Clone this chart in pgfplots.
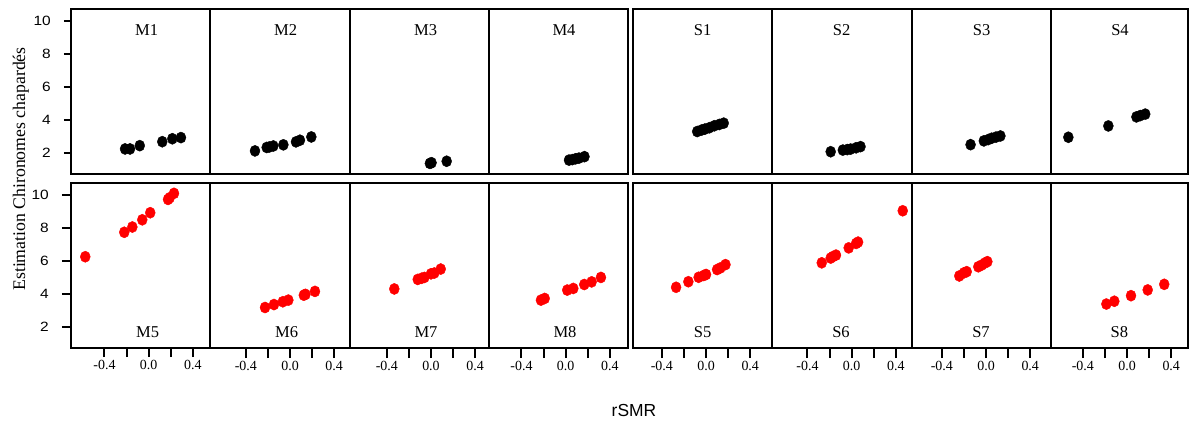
\documentclass[border=0pt]{standalone}
\usepackage{pgfplots}
\pgfplotsset{compat=1.18}
\usepackage{fontspec}
\setmainfont{Liberation Serif}
\newfontfamily\sansf{Liberation Sans}
\pgfplotsset{
  base/.style={scale only axis, height=165bp, anchor=south west,
    ymin=0.704, ymax=10.75, xtick=\empty, ytick=\empty, minor tick num=0,
    axis line style={line width=2bp, black},
    every tick/.style={black, line width=2bp},
    tick align=outside, tick pos=left},
  xrow/.style={xtick={-0.4,-0.2,0,0.2,0.4}, xticklabels={-0.4,,0.0,,0.4},
    major tick length=10bp,
    xticklabel style={font=\fontsize{14}{14}\selectfont}},
  ycol/.style={ytick={2,4,6,8,10}, yticklabels={2,4,6,8,10},
    yticklabel style={font=\sansf\fontsize{13.5}{14}\selectfont, xscale=1.15, xshift=-8bp}},
  blk/.style={only marks, mark=*, mark size=5bp, mark options={draw=black, fill=black, yscale=1.12}},
  rd/.style={only marks, mark=*, mark size=5bp, mark options={draw=red, fill=red, yscale=1.12}},
  c1/.style={at={(71bp,#1)}, width=139bp, xmin=-0.7032, xmax=0.5548},
  c2/.style={at={(210bp,#1)}, width=140bp, xmin=-0.724, xmax=0.543},
  c3/.style={at={(350bp,#1)}, width=139bp, xmin=-0.733, xmax=0.525},
  c4/.style={at={(489bp,#1)}, width=139bp, xmin=-0.694, xmax=0.564},
  c5/.style={at={(633bp,#1)}, width=139bp, xmin=-0.661, xmax=0.597},
  c6/.style={at={(772bp,#1)}, width=140bp, xmin=-0.721, xmax=0.546},
  c7/.style={at={(912bp,#1)}, width=139bp, xmin=-0.670, xmax=0.588},
  c8/.style={at={(1051bp,#1)}, width=137bp, xmin=-0.688, xmax=0.552},
}
\newcommand{\ttl}{\fontsize{16.6}{17}\selectfont}
\begin{document}
\begin{tikzpicture}
\useasboundingbox (0,0) rectangle (1189bp,423bp);
% ---------------- top row ----------------
\begin{axis}[base, ycol, major tick length=7bp, c1=249bp]
\addplot[blk] coordinates {(-0.214,2.23) (-0.169,2.23) (-0.081,2.43) (0.123,2.67) (0.214,2.85) (0.292,2.92)};
\end{axis}
\begin{axis}[base, c2=249bp]
\addplot[blk] coordinates {(-0.317,2.11) (-0.211,2.32) (-0.187,2.35) (-0.151,2.41) (-0.060,2.48) (0.054,2.66) (0.090,2.76) (0.193,2.96)};
\end{axis}
\begin{axis}[base, c3=249bp]
\addplot[blk] coordinates {(-0.01,1.35) (0.005,1.39) (0.142,1.48)};
\end{axis}
\begin{axis}[base, c4=249bp]
\addplot[blk] coordinates {(0.03,1.55) (0.06,1.58) (0.09,1.63) (0.12,1.67) (0.17,1.76)};
\end{axis}
\begin{axis}[base, c5=249bp]
\addplot[blk] coordinates {(-0.08,3.29) (-0.04,3.38) (-0.01,3.44) (0.03,3.52) (0.075,3.64) (0.12,3.72) (0.16,3.80)};
\end{axis}
\begin{axis}[base, c6=249bp]
\addplot[blk] coordinates {(-0.19,2.06) (-0.08,2.16) (-0.04,2.19) (-0.01,2.22) (0.04,2.30) (0.08,2.37)};
\end{axis}
\begin{axis}[base, c7=249bp]
\addplot[blk] coordinates {(-0.14,2.49) (-0.02,2.72) (0.02,2.80) (0.05,2.88) (0.09,2.95) (0.13,3.02)};
\end{axis}
\begin{axis}[base, c8=249bp]
\addplot[blk] coordinates {(-0.531,2.94) (-0.169,3.63) (0.085,4.18) (0.12,4.26) (0.165,4.35)};
\end{axis}
% ---------------- bottom row ----------------
\begin{axis}[base, xrow, ycol, major tick length=9bp, c1=75bp]
\addplot[rd] coordinates {(-0.574,6.26) (-0.221,7.75) (-0.148,8.07) (-0.058,8.51) (0.014,8.94) (0.175,9.75) (0.19,9.85) (0.229,10.12)};
\end{axis}
\begin{axis}[base, xrow, c2=75bp]
\addplot[rd] coordinates {(-0.226,3.17) (-0.145,3.35) (-0.065,3.52) (-0.015,3.62) (0.125,3.92) (0.14,3.97) (0.226,4.15)};
\end{axis}
\begin{axis}[base, xrow, c3=75bp]
\addplot[rd] coordinates {(-0.332,4.30) (-0.12,4.88) (-0.085,4.95) (-0.06,5.00) (0.0,5.22) (0.03,5.27) (0.088,5.51)};
\end{axis}
\begin{axis}[base, xrow, c4=75bp]
\addplot[rd] coordinates {(-0.224,3.62) (-0.19,3.72) (0.014,4.23) (0.069,4.33) (0.168,4.57) (0.235,4.73) (0.319,5.00)};
\end{axis}
\begin{axis}[base, xrow, c5=75bp]
\addplot[rd] coordinates {(-0.271,4.40) (-0.160,4.74) (-0.067,5.01) (-0.02,5.12) (0.0,5.18) (0.10,5.48) (0.13,5.58) (0.176,5.78)};
\end{axis}
\begin{axis}[base, xrow, c6=75bp]
\addplot[rd] coordinates {(-0.271,5.89) (-0.19,6.18) (-0.17,6.27) (-0.142,6.36) (-0.027,6.80) (0.04,7.07) (0.058,7.15) (0.462,9.06)};
\end{axis}
\begin{axis}[base, xrow, c7=75bp]
\addplot[rd] coordinates {(-0.242,5.09) (-0.20,5.28) (-0.175,5.35) (-0.07,5.65) (-0.04,5.75) (-0.01,5.88) (0.012,5.96)};
\end{axis}
\begin{axis}[base, xrow, c8=75bp]
\addplot[rd] coordinates {(-0.187,3.38) (-0.115,3.55) (0.036,3.89) (0.187,4.24) (0.337,4.58)};
\end{axis}
% ---------------- panel titles ----------------
\foreach \x/\t in {146.7/M1,285.7/M2,425.7/M3,564/M4,702.7/S1,841.7/S2,981.7/S3,1120/S4}
  \node[anchor=base, inner sep=0pt, font=\ttl] at (\x bp,387bp) {\t};
\foreach \x/\t in {147.7/M5,286.7/M6,426/M7,565/M8,702.7/S5,841/S6,981/S7,1119.3/S8}
  \node[anchor=base, inner sep=0pt, font=\ttl] at (\x bp,85.3bp) {\t};
% ---------------- axis labels ----------------
\node[anchor=base, inner sep=0pt, rotate=90, font=\fontsize{17.8}{18}\selectfont] at (25bp,254bp) {Estimation Chironomes chapardés};
\node[anchor=base, inner sep=0pt, font=\sansf\fontsize{17.5}{18}\selectfont] at (634bp,6.3bp) {rSMR};
\end{tikzpicture}
\end{document}
